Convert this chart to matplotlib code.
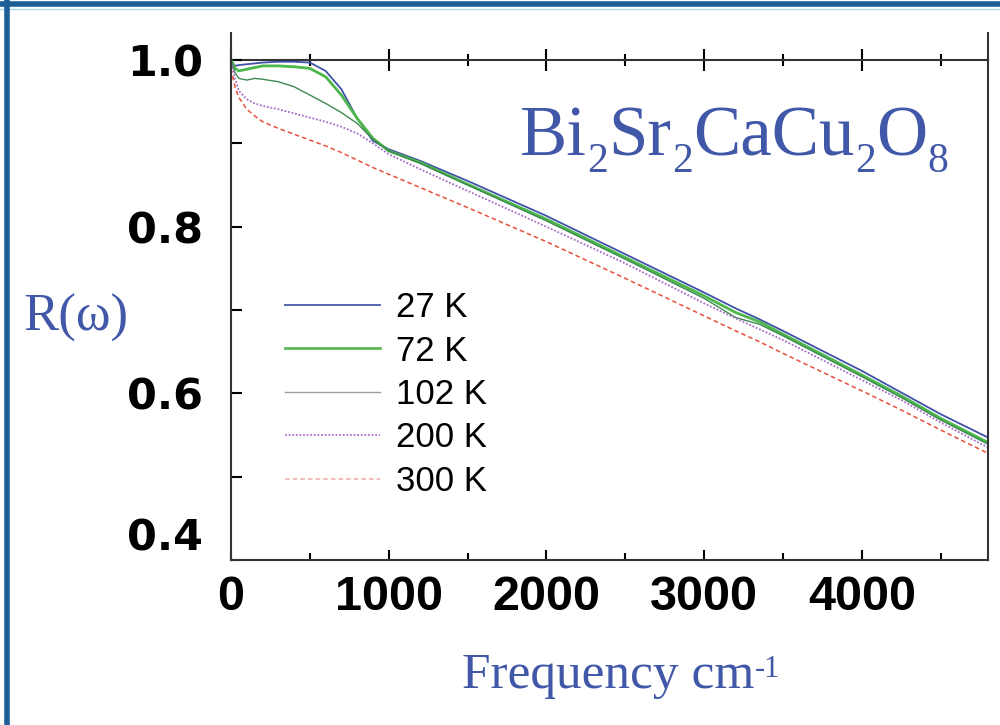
import matplotlib
matplotlib.use("Agg")
import matplotlib.pyplot as plt
from matplotlib.ticker import MultipleLocator, FixedLocator
from matplotlib.lines import Line2D

# frequency (cm-1) and reflectance
freq = [0, 25, 50, 100, 150, 200, 300, 400, 500, 600, 700, 800, 900, 1000,
        1200, 1500, 2000, 2500, 3000, 3200, 3350, 3500, 4000, 4250, 4500, 4800]

r_27k = [1.000, 0.993, 0.994, 0.995, 0.996, 0.997, 0.998, 0.998, 0.997, 0.987,
         0.965, 0.930, 0.903, 0.893, 0.879, 0.855, 0.813, 0.767, 0.721, 0.702,
         0.689, 0.675, 0.627, 0.601, 0.575, 0.547]
r_72k = [1.000, 0.990, 0.987, 0.989, 0.991, 0.993, 0.993, 0.992, 0.990, 0.980,
         0.958, 0.930, 0.906, 0.891, 0.877, 0.851, 0.809, 0.763, 0.717, 0.697,
         0.686, 0.671, 0.622, 0.597, 0.570, 0.541]
r_102k = [1.000, 0.985, 0.978, 0.976, 0.978, 0.977, 0.974, 0.968, 0.958, 0.948,
          0.937, 0.924, 0.905, 0.891, 0.876, 0.850, 0.807, 0.761, 0.714, 0.691,
          0.683, 0.669, 0.620, 0.595, 0.568, 0.539]
r_200k = [1.000, 0.978, 0.963, 0.953, 0.948, 0.945, 0.941, 0.936, 0.931, 0.926,
          0.920, 0.912, 0.900, 0.887, 0.869, 0.843, 0.800, 0.756, 0.708, 0.690,
          0.677, 0.664, 0.616, 0.592, 0.565, 0.535]
r_300k = [0.990, 0.968, 0.955, 0.941, 0.933, 0.926, 0.918, 0.911, 0.904, 0.897,
          0.889, 0.880, 0.871, 0.863, 0.847, 0.823, 0.782, 0.738, 0.693, 0.675,
          0.662, 0.648, 0.603, 0.580, 0.556, 0.528]

labels = ["27 K", "72 K", "102 K", "200 K", "300 K"]
x_ticks = [0, 1000, 2000, 3000, 4000]
y_ticks = [0.4, 0.6, 0.8, 1.0]
# formula pieces: (text, is_subscript)
formula = [("Bi", False), ("2", True), ("Sr", False), ("2", True),
           ("CaCu", False), ("2", True), ("O", False), ("8", True)]

text_blue = "#4157a8"
serif = "Liberation Serif"
ylo, yhi = 0.4, 1.0326

fig = plt.figure(figsize=(10, 7.25), dpi=100)
ax = fig.add_axes([0.231, 0.2276, 0.757, 0.727])

ax.plot(freq, r_27k, color="#3f52a8", lw=1.3, label=labels[0])
ax.plot(freq, r_72k, color="#4cb84a", lw=2.0, label=labels[1])
ax.plot(freq, r_102k, color="#3e8a52", lw=1.0, label=labels[2])
ax.plot(freq, r_200k, color="#a46cc8", lw=1.3, dashes=(1, 1), label=labels[3])
ax.plot(freq, r_300k, color="#e8503c", lw=1.1, dashes=(3, 2), label=labels[4])

ax.set_xlim(0, 4800)
ax.set_ylim(ylo, yhi)

for side in ["left", "right", "bottom"]:
    ax.spines[side].set_linewidth(1.5)
    ax.spines[side].set_color("#333333")
ax.spines["top"].set_visible(False)

ax.xaxis.set_major_locator(FixedLocator(x_ticks))
ax.xaxis.set_minor_locator(MultipleLocator(500))
ax.yaxis.set_major_locator(FixedLocator(y_ticks))
ax.yaxis.set_minor_locator(MultipleLocator(0.1))
ax.set_yticklabels(["0.4", "0.6", "0.8", "1.0"])
ax.set_xticklabels([str(t) for t in x_ticks])

ax.tick_params(axis="x", which="major", direction="in", length=7, width=1.5,
               pad=11, top=False, labelsize=35)
ax.tick_params(axis="x", which="minor", direction="in", length=5, width=1.5, top=False)
ax.tick_params(axis="y", which="major", direction="in", length=8, width=1.5,
               pad=20, right=False, labelsize=31)
ax.tick_params(axis="y", which="minor", direction="in", length=8, width=1.5, right=False)
for lab in ax.get_xticklabels():
    lab.set_fontfamily("Liberation Sans")
    lab.set_fontweight("bold")
for lab in ax.get_yticklabels():
    lab.set_fontfamily("DejaVu Sans")
    lab.set_fontweight("bold")
ax.yaxis.get_major_ticks()[0].label1.set_va("bottom")

# horizontal line with ticks at R = 1.0
top = ax.secondary_xaxis((1.0 - ylo) / (yhi - ylo))
top.xaxis.set_major_locator(FixedLocator(x_ticks))
top.xaxis.set_minor_locator(MultipleLocator(500))
top.tick_params(which="major", direction="inout", length=16, width=1.5,
                labeltop=False, labelbottom=False)
top.tick_params(which="minor", direction="inout", length=9, width=1.5)
for s in ["top", "bottom"]:
    top.spines[s].set_linewidth(1.5)
    top.spines[s].set_color("#333333")

leg = ax.legend(loc="upper left", bbox_to_anchor=(0.071, 0.51), frameon=False,
                prop={"family": "Liberation Sans", "size": 25}, handlelength=2.74,
                handletextpad=0.45, labelspacing=0.3, borderpad=0, borderaxespad=0)
leg_colors = ["#4a5aa8", "#5cb85a", "#9aa49a", "#b070d0", "#f2aaa8"]
for line, c in zip(leg.get_lines(), leg_colors):
    line.set_color(c)

# chemical formula, built piece by piece so subscripts can be small
first = fig.text(0.52, 0.786, formula[0][0], family=serif, fontsize=51,
                 color=text_blue, ha="left", va="baseline")
prev = first
for piece, sub in formula[1:]:
    if sub:
        prev = ax.annotate(piece, xy=(1, 0), xycoords=(prev, first),
                           xytext=(0.3, -8), textcoords="offset points",
                           family=serif, fontsize=30, color=text_blue,
                           ha="left", va="bottom")
    else:
        prev = ax.annotate(piece, xy=(1, 0), xycoords=(prev, first),
                           xytext=(0.3, 0), textcoords="offset points",
                           family=serif, fontsize=51, color=text_blue,
                           ha="left", va="bottom")

fig.text(0.076, 0.561, "R(ω)", family=serif, fontsize=38,
         color=text_blue, ha="center", va="center")
xl = fig.text(0.462, 0.051, "Frequency cm", family=serif,
              fontsize=37, color=text_blue, ha="left", va="baseline")
ax.annotate("-1", xy=(1.0, 0.95), xycoords=xl, family=serif,
            fontsize=22, color=text_blue, ha="left", va="top")

# blue frame around the panel
fig.add_artist(Line2D([0, 1], [0.9945, 0.9945], transform=fig.transFigure,
                      color="#1c5e96", lw=4))
fig.add_artist(Line2D([0, 1], [0.988, 0.988], transform=fig.transFigure,
                      color="#a9dbe8", lw=1))
fig.add_artist(Line2D([0.007, 0.007], [0, 0.997], transform=fig.transFigure,
                      color="#1c5e96", lw=4))

fig.savefig("out.png", dpi=100)
